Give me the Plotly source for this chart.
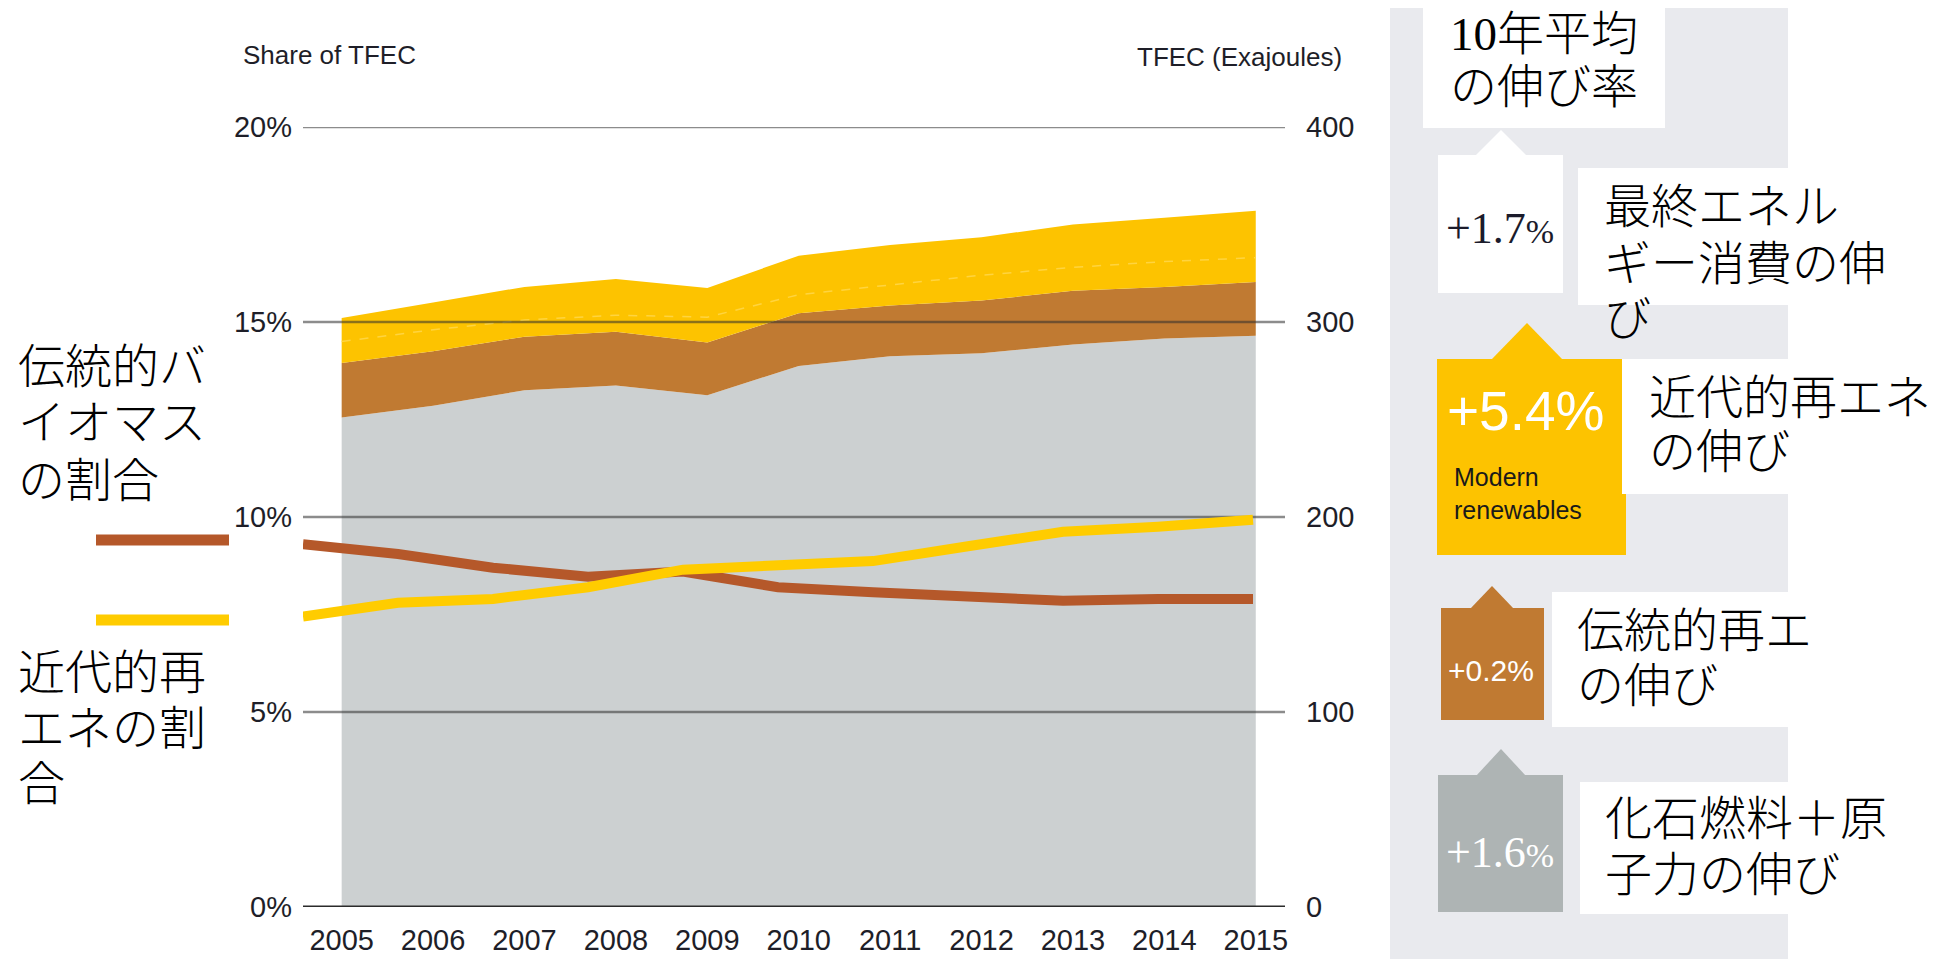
import plotly.graph_objects as go

# ---------------- data ----------------
years = [2005, 2006, 2007, 2008, 2009, 2010, 2011, 2012, 2013, 2014, 2015]
year_labels = [str(y) for y in years]

# TFEC (Exajoules), stacked
fossil_nuclear_ej = [251, 257, 265, 267.5, 262.5, 277.5, 282.5, 284, 288.5, 291.5, 293]
traditional_ej = [28, 28, 27.5, 27.5, 27, 27, 26, 27, 27.5, 26.5, 27.5]
modern_ej = [23, 25, 25.5, 27, 28, 29.5, 31, 32.5, 34, 35.5, 36.5]
modern_split_ej = [290, 296, 301, 303.5, 302.5, 314, 319, 324, 328, 331, 333]

# Share of TFEC (%)
traditional_share_pct = [9.3, 9.05, 8.7, 8.47, 8.6, 8.2, 8.07, 7.99, 7.85, 7.9, 7.9]
modern_share_pct = [7.45, 7.8, 7.9, 8.2, 8.65, 8.78, 8.87, 9.25, 9.62, 9.75, 9.93]

share_ticks = [0, 5, 10, 15, 20]
share_ticktext = ["0%", "5%", "10%", "15%", "20%"]
ej_ticks = [0, 100, 200, 300, 400]
ej_ticktext = ["0", "100", "200", "300", "400"]

# ---------------- style ----------------
C_GREY = "#CCD0D1"
C_BROWN = "#C07A32"
C_YELLOW = "#FDC300"
C_LINE_BROWN = "#B5582A"
C_LINE_YELLOW = "#FFCC00"
C_PANEL = "#E9EAEE"
C_GREYBOX = "#AEB4B4"
C_TEXT = "#1e1e28"

FONT_UI = "Liberation Sans, Arial, sans-serif"
FONT_JP = "Liberation Serif, Noto Sans CJK JP, sans-serif"
FONT_SERIF = "Liberation Serif, Times New Roman, serif"

W, H = 1937, 959
# plot area in pixels
PL, PR, PT, PB = 303, 1285, 127, 907
PW, PH = PR - PL, PB - PT

X_RANGE = [2004.577, 2015.32]
X2_RANGE = [2005.0, 2015.337]


def X(px):
    return (px - PL) / PW


def Y(py):
    return (PB - py) / PH


fig = go.Figure()

# stacked areas (main subplot, EJ axis)
fig.add_trace(go.Scatter(x=years, y=fossil_nuclear_ej, stackgroup="one", mode="none",
                         fillcolor=C_GREY, name="Fossil + nuclear", xaxis="x", yaxis="y"))
fig.add_trace(go.Scatter(x=years, y=traditional_ej, stackgroup="one", mode="none",
                         fillcolor=C_BROWN, name="Traditional biomass", xaxis="x", yaxis="y"))
fig.add_trace(go.Scatter(x=years, y=modern_ej, stackgroup="one", mode="none",
                         fillcolor=C_YELLOW, name="Modern renewables", xaxis="x", yaxis="y"))
fig.add_trace(go.Scatter(x=years, y=modern_split_ej, mode="lines",
                         line=dict(color="#FFD43F", width=1.5, dash="dash"),
                         xaxis="x", yaxis="y", hoverinfo="skip"))

# gridlines drawn above the areas
grid_x, grid_y = [], []
for v in ej_ticks[1:]:
    grid_x += [X_RANGE[0], X_RANGE[1], None]
    grid_y += [v, v, None]
fig.add_trace(go.Scatter(x=grid_x, y=grid_y, mode="lines",
                         line=dict(color="rgba(45,45,45,0.55)", width=2.5),
                         xaxis="x", yaxis="y", hoverinfo="skip", cliponaxis=False))
fig.add_trace(go.Scatter(x=X_RANGE, y=[ej_ticks[0], ej_ticks[0]], mode="lines",
                         line=dict(color="#2b2b2b", width=3),
                         xaxis="x", yaxis="y", hoverinfo="skip", cliponaxis=False))

# share lines (overlay subplot, % axis)
fig.add_trace(go.Scatter(x=years, y=traditional_share_pct, mode="lines",
                         line=dict(color=C_LINE_BROWN, width=10),
                         xaxis="x2", yaxis="y2", cliponaxis=False, name="Traditional share"))
fig.add_trace(go.Scatter(x=years, y=modern_share_pct, mode="lines",
                         line=dict(color=C_LINE_YELLOW, width=10),
                         xaxis="x2", yaxis="y2", cliponaxis=False, name="Modern share"))

tickfont = dict(family=FONT_UI, size=29, color=C_TEXT)

fig.update_layout(
    template="none",
    width=W, height=H, autosize=False,
    margin=dict(l=PL, r=W - PR, t=PT, b=H - PB, pad=0, autoexpand=False),
    paper_bgcolor="white", plot_bgcolor="rgba(0,0,0,0)",
    showlegend=False,
    xaxis=dict(range=X_RANGE, tickvals=years, ticktext=year_labels, tickfont=tickfont,
               showgrid=False, zeroline=False, showline=False, ticks="",
               ticklabelstandoff=13, automargin=False),
    xaxis2=dict(range=X2_RANGE, overlaying="x", visible=False, anchor="y",
                automargin=False),
    yaxis=dict(range=[0, 400], tickvals=ej_ticks, ticktext=ej_ticktext, side="right",
               tickfont=tickfont, showgrid=False, zeroline=False, showline=False,
               ticks="", ticklabelstandoff=20, automargin=False),
    yaxis2=dict(range=[0, 20], tickvals=share_ticks, ticktext=share_ticktext, side="left",
                overlaying="y", anchor="x", tickfont=tickfont, showgrid=False,
                zeroline=False, showline=False, ticks="", ticklabelstandoff=10,
                automargin=False),
)

shapes = []


def rect(x0, y0, x1, y1, color):
    shapes.append(dict(type="rect", xref="paper", yref="paper",
                       x0=X(x0), x1=X(x1), y0=Y(y1), y1=Y(y0),
                       fillcolor=color, line=dict(width=0), layer="above"))


def tri(ax, ay, half, by, color):
    path = (f"M {X(ax)},{Y(ay)} L {X(ax - half)},{Y(by)} "
            f"L {X(ax + half)},{Y(by)} Z")
    shapes.append(dict(type="path", xref="paper", yref="paper", path=path,
                       fillcolor=color, line=dict(width=0), layer="above"))


# right-hand panel
rect(1390, 8, 1788, H, C_PANEL)
rect(1423, 0, 1665, 128, "white")
tri(1501, 130, 26, 156, "white")
rect(1438, 155, 1563, 293, "white")
rect(1578, 168, W, 305, "white")
tri(1527, 323, 36, 360, C_YELLOW)
rect(1437, 359, 1626, 555, C_YELLOW)
rect(1622, 359, W, 494, "white")
tri(1492, 586, 22, 609, C_BROWN)
rect(1441, 608, 1544, 720, C_BROWN)
rect(1552, 592, W, 727, "white")
tri(1501, 749, 25, 776, C_GREYBOX)
rect(1438, 775, 1563, 912, C_GREYBOX)
rect(1580, 782, W, 914, "white")

# legend line samples on the left
for yy, col in [(540, C_LINE_BROWN), (620, C_LINE_YELLOW)]:
    shapes.append(dict(type="line", xref="paper", yref="paper",
                       x0=X(96), x1=X(229), y0=Y(yy), y1=Y(yy),
                       line=dict(color=col, width=11), layer="above"))

fig.update_layout(shapes=shapes)

ann = []


def text(t, px, py, size, family, color="black", xanchor="left", weight=None):
    f = dict(family=family, size=size, color=color)
    if weight is not None:
        f["weight"] = weight
    ann.append(dict(text=t, x=X(px), y=Y(py), xref="paper", yref="paper",
                    xanchor=xanchor, yanchor="middle", showarrow=False,
                    align="left", font=f))


def jp(lines, px, centers, size=47):
    for t, cy in zip(lines, centers):
        text(t, px, cy, size, FONT_JP, "black", weight=300)


text("Share of TFEC", 241, 55, 26, FONT_UI, C_TEXT)
text("TFEC (Exajoules)", 1344, 57, 26, FONT_UI, C_TEXT, xanchor="right")

jp(["10年平均", "の伸び率"], 1448, [34, 87])
text("+1.7<span style='font-size:34px'>%</span>", 1500, 228, 44, FONT_SERIF, "#1b1b2b",
     xanchor="center")
jp(["最終エネル", "ギー消費の伸", "び"], 1602, [207, 264, 319])
text("+5.4%", 1525, 411, 55, FONT_UI, "white", xanchor="center", weight=300)
text("Modern<br>renewables", 1452, 493, 25, FONT_UI, "#1a1a1a")
jp(["近代的再エネ", "の伸び"], 1647, [398, 452])
text("+0.2%", 1491, 670, 30, FONT_UI, "white", xanchor="center")
jp(["伝統的再エ", "の伸び"], 1575, [631, 686])
text("+1.6<span style='font-size:34px'>%</span>", 1500, 852, 44, FONT_SERIF, "white",
     xanchor="center")
jp(["化石燃料＋原", "子力の伸び"], 1603, [819, 875])

jp(["伝統的バ", "イオマス", "の割合"], 16, [367, 423, 481])
jp(["近代的再", "エネの割", "合"], 16, [673, 729, 784])

fig.update_layout(annotations=ann)

fig.write_html("out.html", config={"displayModeBar": False},
               post_script="document.body.style.margin='0px';"
                           "document.body.style.overflow='hidden';")
